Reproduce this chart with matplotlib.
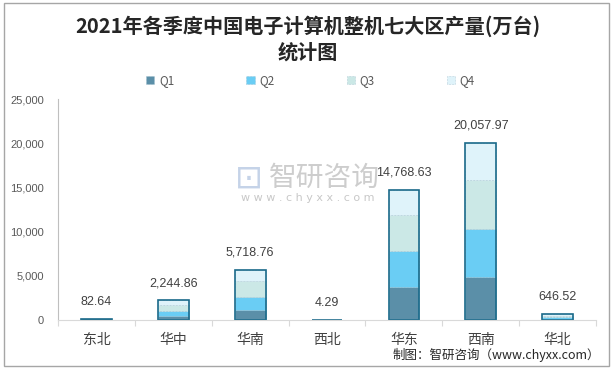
import matplotlib
matplotlib.use("Agg")
from matplotlib import pyplot as plt
from matplotlib.patches import Rectangle
from matplotlib.ticker import FuncFormatter, FixedLocator
import numpy as np

plt.rcParams['font.family'] = ['Noto Sans CJK SC', 'DejaVu Sans']

regions = ['东北', '华中', '华南', '西北', '华东', '西南', '华北']
q1 = [20.0, 450.0, 1150.0, 1.0, 3750.0, 4900.0, 150.0]
q2 = [20.0, 600.0, 1450.0, 1.1, 4050.0, 5400.0, 170.0]
q3 = [22.0, 700.0, 1800.0, 1.1, 4080.0, 5550.0, 180.0]
q4 = [20.64, 494.86, 1318.76, 1.09, 2888.63, 4207.97, 146.52]
totals = [82.64, 2244.86, 5718.76, 4.29, 14768.63, 20057.97, 646.52]
quarters = ['Q1', 'Q2', 'Q3', 'Q4']
colors = ['#5b8fa8', '#6acdf4', '#cbe8e6', '#dff3fa']

fig = plt.figure(figsize=(6.15, 3.70), dpi=100)
fig.patches.append(Rectangle((0.006, 0.012), 0.985, 0.98, transform=fig.transFigure,
                             fill=False, edgecolor='#a6a6a6', linewidth=1.0))

ax = fig.add_axes([0.0943, 0.1351, 0.875, 0.5965])
x = np.arange(len(regions))
width = 0.40
bottom = np.zeros(len(regions))
for name, vals, col in zip(quarters, [q1, q2, q3, q4], colors):
    vals = np.array(vals)
    ax.bar(x, vals, width, bottom=bottom, color=col, label=name,
           edgecolor='#8fb3c3', linewidth=0.4, linestyle=':')
    bottom += vals

# outline of whole stack
ax.bar(x, totals, width, fill=False, edgecolor='#1a6a8a', linewidth=1.2)

for xi, t in zip(x, totals):
    ax.annotate(f'{t:,.2f}', (xi, t), xytext=(0, 8), textcoords='offset points',
                ha='center', va='bottom', fontsize=9, color='#404040',
                family='Liberation Sans')

ax.set_xlim(-0.5, len(regions) - 0.5)
ax.set_ylim(0, 25000)
ax.set_yticks(np.arange(0, 25001, 5000))
ax.yaxis.set_major_formatter(FuncFormatter(lambda v, p: f'{int(v):,}'))
ax.tick_params(axis='y', length=0, labelsize=8, labelcolor='#595959', pad=10)
for lab in ax.get_yticklabels():
    lab.set_family('Liberation Sans')

ax.xaxis.set_major_locator(FixedLocator(np.arange(-0.5, len(regions), 1.0)))
ax.xaxis.set_minor_locator(FixedLocator(x))
ax.set_xticklabels([], minor=False)
ax.set_xticklabels(regions, minor=True)
ax.tick_params(axis='x', which='major', length=4, color='#d9d9d9')
ax.tick_params(axis='x', which='minor', length=0, labelsize=10, labelcolor='#404040', pad=9)

for side in ['top', 'right']:
    ax.spines[side].set_visible(False)
ax.spines['left'].set_color('#bfbfbf')
ax.spines['bottom'].set_color('#d9d9d9')

# legend
handles, labels = ax.get_legend_handles_labels()
fig.legend(handles[:4], labels[:4], loc='center', bbox_to_anchor=(0.505, 0.783), ncol=4,
           frameon=False, fontsize=8.5, handlelength=0.7, handleheight=0.7,
           columnspacing=6.1, handletextpad=0.4, labelcolor='#595959')

fig.text(0.5, 0.928, '2021年各季度中国电子计算机整机七大区产量(万台)',
         ha='center', va='center', fontsize=14.5, fontweight='bold', color='#262626')
fig.text(0.5, 0.858, '统计图', ha='center', va='center', fontsize=14.5,
         fontweight='bold', color='#262626')

# watermark
fig.text(0.527, 0.519, '智研咨询', ha='center', va='center', fontsize=20,
         color='#c8c8c8', alpha=0.9)
fig.text(0.5, 0.466, 'w w w . c h y x x . c o m', ha='center', va='center',
         fontsize=8, color='#c8c8c8', family='DejaVu Sans')
fig.text(0.405, 0.519, '⊡', ha='center', va='center', fontsize=24, color='#c5d3e8')

fig.text(0.975, 0.04, '制图：智研咨询（www.chyxx.com）', ha='right', va='center',
         fontsize=9, color='#262626')

fig.savefig('out.png', dpi=100)
